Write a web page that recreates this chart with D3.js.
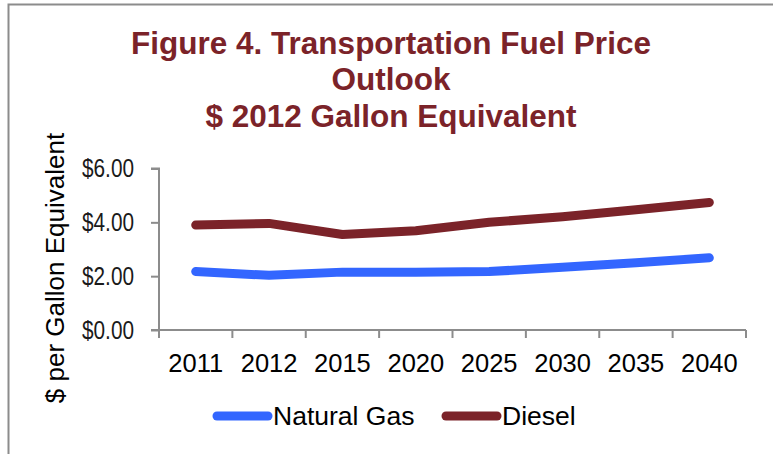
<!DOCTYPE html>
<html>
<head>
<meta charset="utf-8">
<script src="https://cdn.jsdelivr.net/npm/d3@7"></script>
<style>
  html, body { margin: 0; padding: 0; background: #fff; }
  svg { display: block; }
</style>
</head>
<body>
<svg id="chart" width="773" height="454"></svg>
<script>
const categories = ["2011", "2012", "2015", "2020", "2025", "2030", "2035", "2040"];
const naturalGas = [2.17, 2.03, 2.15, 2.15, 2.17, 2.33, 2.50, 2.68];
const diesel = [3.90, 3.96, 3.55, 3.69, 4.00, 4.21, 4.47, 4.74];
const yTicks = [0, 2, 4, 6];
const titleLines = ["Figure 4. Transportation Fuel Price", "Outlook", "$ 2012 Gallon Equivalent"];
const seriesNames = ["Natural Gas", "Diesel"];
const seriesColors = ["#3366FF", "#7B2329"];

const svg = d3.select("#chart");
const axisColor = "#8c8c8c";
const font = "'Liberation Sans', Arial, sans-serif";

// outer frame
svg.append("rect")
  .attr("x", 8.5).attr("y", 4.5)
  .attr("width", 900).attr("height", 600)
  .attr("fill", "#fff")
  .attr("stroke", "#8c8c8c").attr("stroke-width", 2);

// title
const title = svg.append("text")
  .attr("text-anchor", "middle")
  .attr("font-family", font)
  .attr("font-weight", "bold")
  .attr("font-size", 31.5)
  .attr("fill", "#7B2329");
titleLines.forEach((t, i) => {
  title.append("tspan").attr("x", 391).attr("y", 53.5 + i * 36.7).text(t);
});

const plot = { left: 159, right: 746, top: 168.5, bottom: 330 };

const x = d3.scaleBand().domain(categories).range([plot.left, plot.right]).padding(0);
const y = d3.scaleLinear().domain([0, 6]).range([plot.bottom, plot.top]);

// y axis
const yAxis = svg.append("g")
  .attr("transform", `translate(${plot.left},0)`)
  .call(d3.axisLeft(y).tickValues(yTicks).tickSize(8).tickPadding(17)
    .tickFormat(d => "$" + d3.format(".2f")(d)));
yAxis.select(".domain").attr("stroke", axisColor).attr("stroke-width", 2)
  .attr("d", `M-8,${plot.top}H0V${plot.bottom}`);
yAxis.selectAll(".tick line").attr("stroke", axisColor).attr("stroke-width", 2);
yAxis.selectAll(".tick text")
  .attr("font-family", font)
  .attr("font-size", 25)
  .attr("textLength", 52)
  .attr("lengthAdjust", "spacingAndGlyphs")
  .attr("fill", "#1a1a1a");

// x axis
const xAxis = svg.append("g")
  .attr("transform", `translate(0,${plot.bottom})`)
  .call(d3.axisBottom(x).tickSize(0).tickPadding(24));
xAxis.select(".domain").attr("stroke", axisColor).attr("stroke-width", 2)
  .attr("d", `M${plot.left - 8},0H${plot.right}`);
xAxis.selectAll(".tick text")
  .attr("font-family", font).attr("font-size", 25.5).attr("fill", "#000");
// category boundary ticks
const boundaries = categories.map(c => x(c)).concat([x(categories[categories.length - 1]) + x.bandwidth()]);
xAxis.selectAll(".bnd").data(boundaries).enter().append("line")
  .attr("class", "bnd")
  .attr("x1", d => d).attr("x2", d => d)
  .attr("y1", 0).attr("y2", 8)
  .attr("stroke", axisColor).attr("stroke-width", 2);

// lines
const series = [naturalGas, diesel];
const line = d3.line()
  .x((d, i) => x(categories[i]) + x.bandwidth() / 2)
  .y(d => y(d));
series.forEach((s, k) => {
  svg.append("path")
    .datum(s)
    .attr("d", line)
    .attr("fill", "none")
    .attr("stroke", seriesColors[k])
    .attr("stroke-width", 9)
    .attr("stroke-linecap", "round")
    .attr("stroke-linejoin", "round");
});

// y-axis title
svg.append("text")
  .attr("transform", `translate(64,268) rotate(-90)`)
  .attr("text-anchor", "middle")
  .attr("font-family", font)
  .attr("font-size", 26)
  .attr("fill", "#000")
  .text("$ per Gallon Equivalent");

// legend
const legendItems = [
  { x1: 217, x2: 268, tx: 273 },
  { x1: 446, x2: 497, tx: 502 }
];
legendItems.forEach((li, k) => {
  svg.append("line")
    .attr("x1", li.x1).attr("x2", li.x2)
    .attr("y1", 416).attr("y2", 416)
    .attr("stroke", seriesColors[k])
    .attr("stroke-width", 9)
    .attr("stroke-linecap", "round");
  svg.append("text")
    .attr("x", li.tx).attr("y", 425)
    .attr("font-family", font)
    .attr("font-size", 26.5)
    .attr("fill", "#000")
    .text(seriesNames[k]);
});
</script>
</body>
</html>
